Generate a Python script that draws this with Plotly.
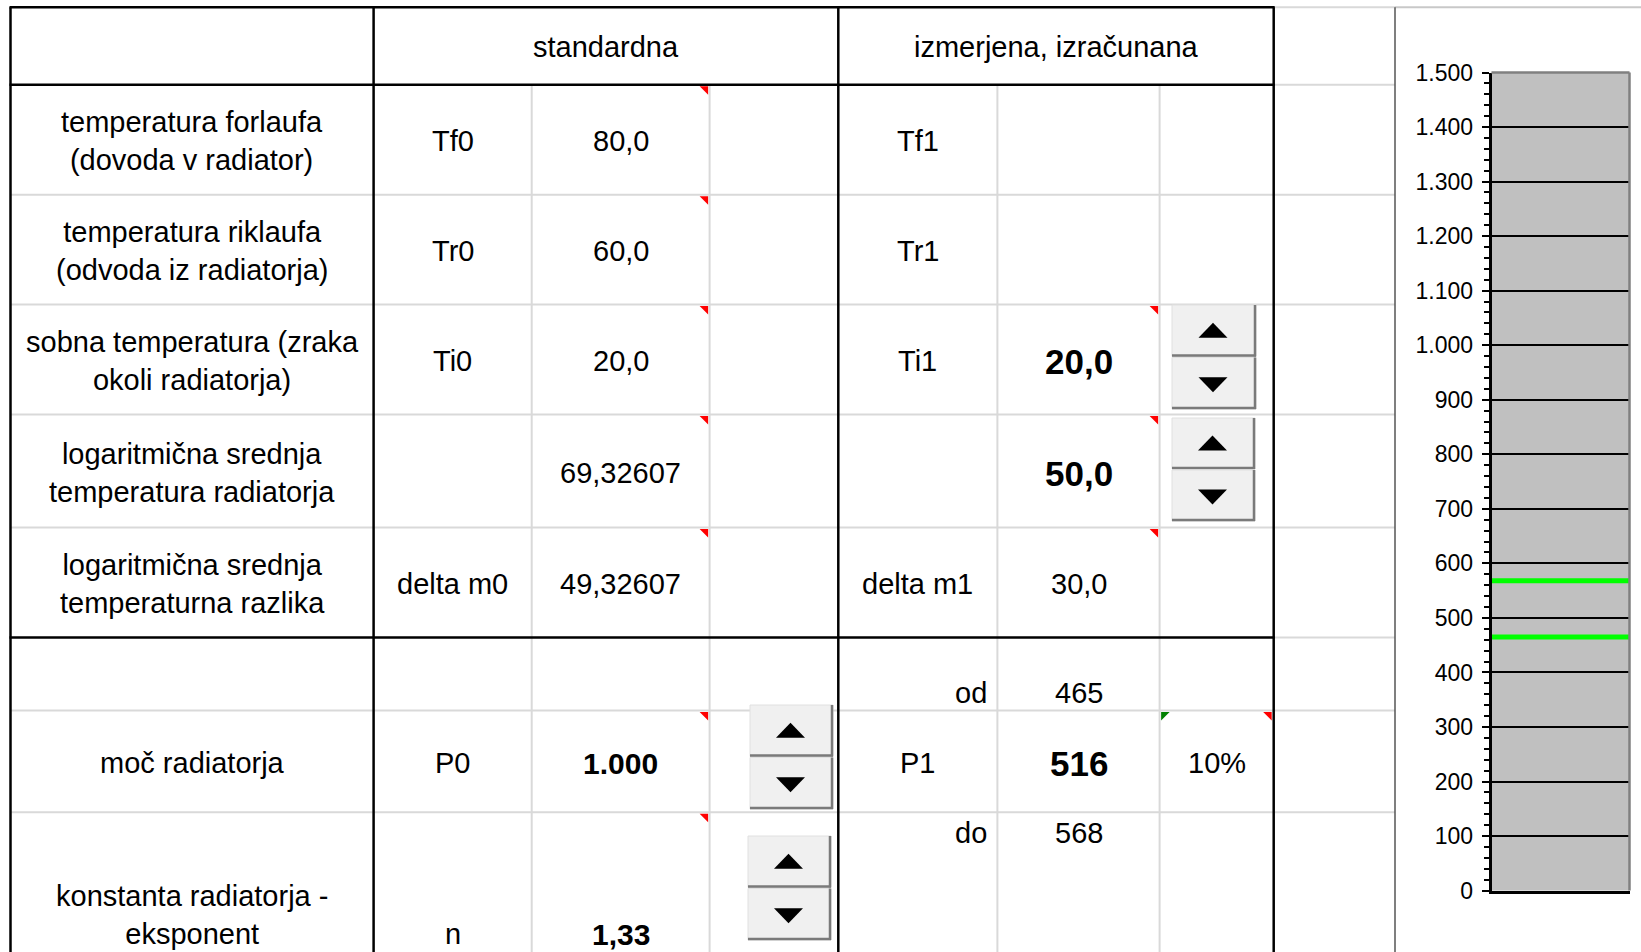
import plotly.graph_objects as go

# ---------------- data ----------------
header_std = "standardna"
header_meas = "izmerjena, izračunana"
row_labels = [
    "temperatura forlaufa<br>(dovoda v radiator)",
    "temperatura riklaufa<br>(odvoda iz radiatorja)",
    "sobna temperatura (zraka<br>okoli radiatorja)",
    "logaritmična srednja<br>temperatura radiatorja",
    "logaritmična srednja<br>temperaturna razlika",
    "",
    "moč radiatorja",
    "konstanta radiatorja -<br>eksponent",
]
std_symbols = ["Tf0", "Tr0", "Ti0", "", "delta m0", "", "P0", "n"]
std_values = ["80,0", "60,0", "20,0", "69,32607", "49,32607", "", "1.000", "1,33"]
std_bold = [False, False, False, False, False, False, True, True]
meas_symbols = ["Tf1", "Tr1", "Ti1", "", "delta m1", "od", "P1", "do"]
meas_values = ["", "", "20,0", "50,0", "30,0", "465", "516", "568"]
meas_bold = [False, False, True, True, False, False, True, False]
tolerance_text = "10%"
power_band = [465, 568]          # od / do  -> green lines in the gauge
y_ticks = list(range(0, 1501, 100))

# ---------------- layout constants (pixels) ----------------
W, H = 1641, 952
X = [10.5, 373.6, 531.7, 709.6, 838.3, 997.4, 1159.6, 1273.7]
XC = 1395.0
Y = [7.3, 84.8, 194.7, 304.6, 414.5, 527.5, 637.4, 710.6, 812.2]
FONT = "Liberation Sans, Arial, sans-serif"
LIGHT = "#D9D9D9"


def fx(x):
    return x / W


def fy(y):
    return 1 - y / H


shapes = []
annotations = []


def hline(y, x0, x1, color, width):
    shapes.append(dict(type="line", xref="paper", yref="paper", x0=fx(x0), x1=fx(x1),
                       y0=fy(y), y1=fy(y), line=dict(color=color, width=width)))


def vline(x, y0, y1, color, width):
    shapes.append(dict(type="line", xref="paper", yref="paper", x0=fx(x), x1=fx(x),
                       y0=fy(y0), y1=fy(y1), line=dict(color=color, width=width)))


def poly(points, color):
    path = "M " + " L ".join(f"{fx(px):.5f},{fy(py):.5f}" for px, py in points) + " Z"
    shapes.append(dict(type="path", xref="paper", yref="paper", path=path,
                       fillcolor=color, line=dict(width=0)))


def rect(x0, y0, x1, y1, fill, lc, lw):
    shapes.append(dict(type="rect", xref="paper", yref="paper", x0=fx(x0), x1=fx(x1),
                       y0=fy(y1), y1=fy(y0), fillcolor=fill, line=dict(color=lc, width=lw)))


def ann(text, x, y, size=29, bold=False, xanchor="center", yanchor="middle"):
    if not text:
        return
    annotations.append(dict(text=("<b>%s</b>" % text) if bold else text, x=fx(x), y=fy(y),
                            xref="paper", yref="paper", xanchor=xanchor, yanchor=yanchor,
                            showarrow=False, align="center",
                            font=dict(family=FONT, size=size, color="black")))


# ---- light spreadsheet grid ----
for y in Y[2:6] + Y[7:9]:
    hline(y, X[0], XC, LIGHT, 2)
for y in (Y[0], Y[1], Y[6]):
    hline(y, X[7], XC, LIGHT, 2)
for x in (X[2], X[3], X[5], X[6]):
    vline(x, Y[1], H, LIGHT, 2)

# ---- thick table borders ----
for y in (Y[0], Y[1], Y[6]):
    hline(y, X[0] - 1, X[7] + 1, "black", 2.5)
for x in (X[0], X[1], X[4], X[7]):
    vline(x, Y[0], H, "black", 2.5)

# ---- chart object border ----
hline(Y[0], XC, W, "#C8C8C8", 2)
vline(XC, Y[0], H, "#555555", 1.5)

# ---- comment indicators ----
TS = 8.5
for r in (1, 2, 3, 4, 5, 7, 8):
    xr, yt = X[3] - 1.5, Y[r] + 1.5
    poly([(xr - TS, yt), (xr, yt), (xr, yt + TS)], "#FF0000")
for r in (3, 4, 5):
    xr, yt = X[6] - 1.5, Y[r] + 1.5
    poly([(xr - TS, yt), (xr, yt), (xr, yt + TS)], "#FF0000")
poly([(X[7] - 2 - TS, Y[7] + 1.5), (X[7] - 2, Y[7] + 1.5), (X[7] - 2, Y[7] + 1.5 + TS)], "#FF0000")
poly([(X[6] + 1.5, Y[7] + 1.5), (X[6] + 1.5 + TS, Y[7] + 1.5), (X[6] + 1.5, Y[7] + 1.5 + TS)], "#008000")

# ---- spinner buttons ----
buttons = [(1172, 305, 1256, 409), (1172, 418, 1255, 521), (750, 705, 833, 809), (748, 836, 831, 940)]
for (bx0, by0, bx1, by1) in buttons:
    bm = (by0 + by1) / 2
    for (hy0, hy1, up) in ((by0, bm - 0.5, True), (bm + 0.5, by1, False)):
        rect(bx0, hy0, bx1, hy1, "#F0F0F0", "#E0E0E0", 1)
        hline(hy1 - 1, bx0, bx1, "#7A7A7A", 2.5)
        vline(bx1 - 1, hy0, hy1, "#7A7A7A", 2.5)
        cx = (bx0 + bx1) / 2 - 1
        cy = (hy0 + hy1) / 2 + (-0.5 if up else 1.5)
        if up:
            poly([(cx - 14.5, cy + 7.5), (cx + 14.5, cy + 7.5), (cx, cy - 7.5)], "black")
        else:
            poly([(cx - 14.5, cy - 7.5), (cx + 14.5, cy - 7.5), (cx, cy + 7.5)], "black")

# ---- table text ----
ann(header_std, (X[1] + X[4]) / 2, (Y[0] + Y[1]) / 2 + 1)
ann(header_meas, (X[4] + X[7]) / 2, (Y[0] + Y[1]) / 2 + 1)

text_y = [141, 251, 361, 473, 584, 693, 763]
cx_label = (X[0] + X[1]) / 2
cx_ssym = (X[1] + X[2]) / 2
cx_sval = (X[2] + X[3]) / 2
cx_msym = (X[4] + X[5]) / 2
cx_mval = (X[5] + X[6]) / 2
for i in range(8):
    if i < 7:
        ly = sy = my = text_y[i]
    else:
        ly, sy, my = 915, 934, 833
    ann(row_labels[i], cx_label, ly)
    ann(std_symbols[i], cx_ssym, sy)
    ann(std_values[i], cx_sval, sy, size=30 if std_bold[i] else 29, bold=std_bold[i])
    if i in (5, 7):
        ann(meas_symbols[i], X[5] - 8, my, xanchor="right")
    else:
        ann(meas_symbols[i], cx_msym, my)
    ann(meas_values[i], cx_mval, my, size=35 if meas_bold[i] else 29, bold=meas_bold[i])
ann(tolerance_text, (X[6] + X[7]) / 2, text_y[6])

# ---- gauge chart ----
fig = go.Figure()
for v in power_band:
    fig.add_trace(go.Scatter(x=[0, 1], y=[v, v], mode="lines",
                             line=dict(color="#00FF00", width=5), hoverinfo="skip"))

# plot-area top / right border
shapes.append(dict(type="line", xref="x domain", yref="y domain", x0=0, x1=1, y0=1, y1=1,
                   line=dict(color="#808080", width=2.5)))
shapes.append(dict(type="line", xref="x domain", yref="y domain", x0=1, x1=1, y0=0, y1=1,
                   line=dict(color="#808080", width=2.5)))

fig.update_layout(
    width=W, height=H, margin=dict(l=0, r=0, t=0, b=0, autoexpand=False),
    paper_bgcolor="white", plot_bgcolor="#C0C0C0", showlegend=False,
    separators=",.",
    xaxis=dict(domain=[1491.5 / W, 1629.5 / W], range=[0, 1], showgrid=False, zeroline=False,
               showticklabels=False, ticks="", showline=True, linecolor="black", linewidth=3,
               fixedrange=True),
    yaxis=dict(domain=[(H - 890.6) / H, (H - 72.5) / H], range=[0, 1500],
               tickmode="array", tickvals=y_ticks, tickformat=",d",
               ticks="outside", ticklen=7, tickwidth=2, tickcolor="black",
               showline=True, linecolor="black", linewidth=2.5,
               showgrid=True, gridcolor="black", gridwidth=2, zeroline=False,
               minor=dict(ticks="outside", ticklen=5, tickwidth=1.5, tickcolor="black",
                          tickmode="linear", tick0=0, dtick=20, showgrid=False),
               tickfont=dict(family=FONT, size=23, color="black"),
               ticklabelstandoff=4, fixedrange=True),
    shapes=shapes, annotations=annotations,
)

fig.write_html("out.html", include_plotlyjs=True, config={"displayModeBar": False},
               post_script="document.body.style.margin='0';document.body.style.overflow='hidden';")
